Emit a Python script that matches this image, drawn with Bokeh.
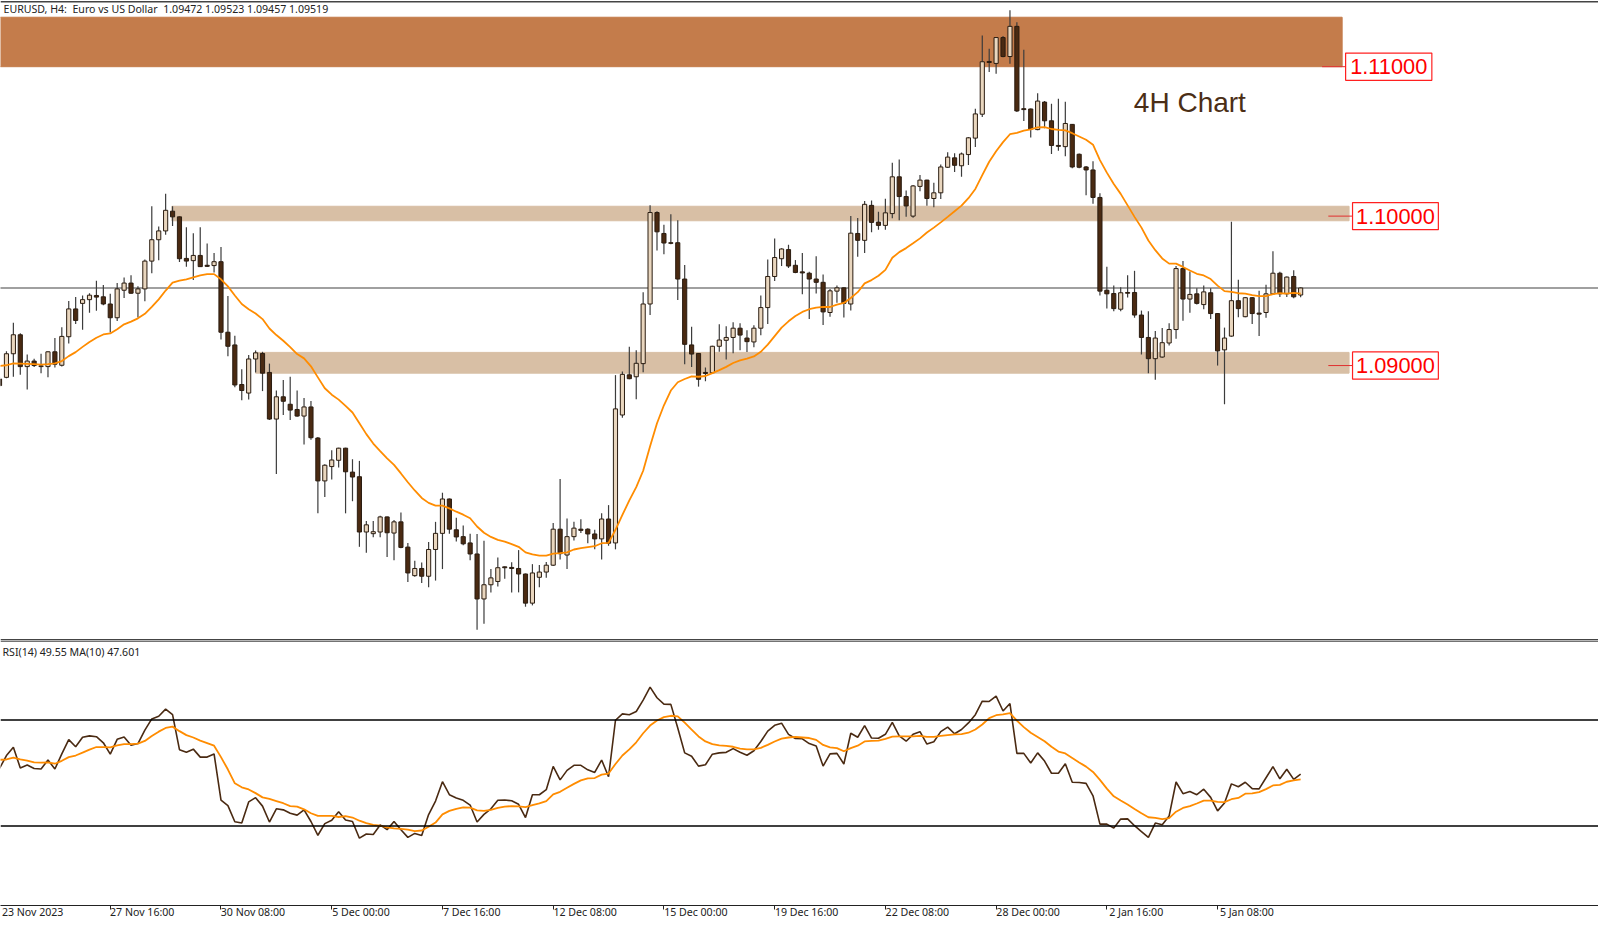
from bokeh.core.properties import value
from bokeh.embed import file_html
from bokeh.layouts import column
from bokeh.models import FixedTicker, Label, Range1d, Span
from bokeh.plotting import figure
from bokeh.resources import INLINE
import numpy as np

# EURUSD H4 candles, first bar is partly off the left edge
opens = [1.08910,1.08921,1.09079,1.09206,1.08993,1.09030,1.08993,1.08993,1.09092,1.09002,
1.09193,1.09379,1.09416,1.09441,1.09469,1.09460,1.09412,1.09320,1.09504,1.09552,
1.09484,1.09513,1.09699,1.09842,1.09901,1.10033,1.09995,1.09717,1.09702,1.09737,
1.09671,1.09669,1.09695,1.09223,1.09138,1.08873,1.08816,1.09044,1.09081,1.08954,
1.08642,1.08791,1.08741,1.08706,1.08662,1.08723,1.08515,1.08228,1.08324,1.08366,
1.08447,1.08287,1.08256,1.07886,1.07875,1.07886,1.07987,1.07879,1.07954,1.07785,
1.07594,1.07642,1.07590,1.07769,1.07877,1.08107,1.07901,1.07855,1.07813,1.07739,
1.07438,1.07533,1.07555,1.07653,1.07649,1.07642,1.07605,1.07410,1.07583,1.07618,
1.07664,1.07905,1.07732,1.07855,1.07905,1.07905,1.07873,1.07840,1.07973,1.07813,
1.08669,1.08938,1.08925,1.09013,1.09412,1.10024,1.09884,1.09822,1.09822,1.09579,
1.09138,1.09081,1.08954,1.08952,1.09129,1.09169,1.09188,1.09250,1.09184,1.09158,
1.09250,1.09388,1.09596,1.09715,1.09776,1.09671,1.09627,1.09618,1.09579,1.09557,
1.09355,1.09498,1.09520,1.09412,1.09884,1.09838,1.10072,1.09960,1.09938,1.10017,
1.10263,1.10131,1.10000,1.10199,1.10241,1.10118,1.10156,1.10327,1.10390,1.10337,
1.10412,1.10522,1.10682,1.11035,1.11022,1.11195,1.11068,1.11270,1.10719,1.10717,
1.10579,1.10763,1.10638,1.10473,1.10465,1.10614,1.10414,1.10329,1.10309,1.10125,
1.09504,1.09482,1.09377,1.09489,1.09489,1.09338,1.09188,1.09046,1.09057,1.09151,
1.09241,1.09649,1.09445,1.09480,1.09408,1.09487,1.09348,1.09105,1.09197,1.09434,
1.09327,1.09454,1.09351,1.09355,1.09480,1.09618,1.09480,1.09596,1.09472]
highs = [1.08921,1.09096,1.09287,1.09217,1.09074,1.09046,1.09079,1.09096,1.09184,1.09256,
1.09432,1.09458,1.09469,1.09484,1.09568,1.09539,1.09480,1.09552,1.09590,1.09605,
1.09530,1.09710,1.10066,1.09930,1.10149,1.10066,1.09998,1.09925,1.09886,1.09925,
1.09816,1.09754,1.09794,1.09465,1.09199,1.08976,1.09070,1.09101,1.09092,1.09013,
1.08833,1.08903,1.08925,1.08833,1.08783,1.08763,1.08522,1.08340,1.08434,1.08450,
1.08450,1.08373,1.08362,1.07960,1.07960,1.07995,1.07990,1.07967,1.08017,1.07813,
1.07693,1.07682,1.07820,1.07954,1.08149,1.08110,1.07982,1.07930,1.07875,1.07873,
1.07827,1.07638,1.07715,1.07655,1.07684,1.07765,1.07608,1.07671,1.07666,1.07686,
1.07947,1.08241,1.07976,1.07954,1.07971,1.07912,1.07901,1.08011,1.08066,1.08936,
1.08960,1.09125,1.09103,1.09491,1.10072,1.10033,1.09943,1.10013,1.09973,1.09673,
1.09259,1.09083,1.08987,1.09132,1.09276,1.09263,1.09289,1.09283,1.09237,1.09270,
1.09469,1.09710,1.09851,1.09785,1.09809,1.09706,1.09754,1.09627,1.09732,1.09609,
1.09513,1.09535,1.09524,1.10000,1.09987,1.10101,1.10105,1.10030,1.10116,1.10357,
1.10379,1.10171,1.10208,1.10276,1.10244,1.10223,1.10346,1.10427,1.10421,1.10425,
1.10530,1.10719,1.11208,1.11120,1.11199,1.11206,1.11377,1.11298,1.11114,1.10720,
1.10822,1.10770,1.10752,1.10785,1.10765,1.10617,1.10419,1.10335,1.10368,1.10153,
1.09662,1.09535,1.09524,1.09605,1.09634,1.09368,1.09364,1.09232,1.09252,1.09283,
1.09666,1.09699,1.09629,1.09517,1.09535,1.09517,1.09351,1.09254,1.09963,1.09574,
1.09458,1.09458,1.09500,1.09541,1.09765,1.09627,1.09596,1.09638,1.09523]
lows = [1.08855,1.08915,1.08925,1.08938,1.08840,1.08991,1.08949,1.08921,1.08987,1.08993,
1.09147,1.09278,1.09239,1.09353,1.09366,1.09403,1.09221,1.09298,1.09452,1.09480,
1.09322,1.09430,1.09618,1.09704,1.09875,1.09934,1.09693,1.09662,1.09572,1.09660,
1.09660,1.09623,1.09175,1.09063,1.08855,1.08767,1.08772,1.08954,1.08829,1.08636,
1.08274,1.08669,1.08636,1.08658,1.08471,1.08504,1.08011,1.08120,1.08237,1.08318,
1.08011,1.08092,1.07787,1.07748,1.07851,1.07851,1.07719,1.07697,1.07778,1.07552,
1.07587,1.07544,1.07517,1.07561,1.07638,1.07875,1.07822,1.07798,1.07697,1.07232,
1.07272,1.07482,1.07522,1.07574,1.07482,1.07482,1.07386,1.07395,1.07517,1.07580,
1.07658,1.07702,1.07638,1.07829,1.07879,1.07811,1.07770,1.07702,1.07794,1.07770,
1.08651,1.08908,1.08774,1.08956,1.09338,1.09770,1.09745,1.09811,1.09438,1.09009,
1.08991,1.08859,1.08895,1.08943,1.09092,1.09041,1.09083,1.09103,1.09090,1.09123,
1.09202,1.09278,1.09566,1.09666,1.09653,1.09618,1.09478,1.09311,1.09482,1.09272,
1.09327,1.09421,1.09322,1.09368,1.09728,1.09754,1.09892,1.09908,1.09908,1.09985,
1.09973,1.09995,1.09989,1.10166,1.10070,1.10059,1.10114,1.10322,1.10296,1.10263,
1.10342,1.10462,1.10664,1.10965,1.10952,1.11063,1.11020,1.10697,1.10636,1.10526,
1.10574,1.10588,1.10416,1.10438,1.10401,1.10320,1.10320,1.10140,1.10083,1.09469,
1.09381,1.09364,1.09364,1.09456,1.09320,1.09074,1.08949,1.08905,1.09052,1.09134,
1.09180,1.09300,1.09353,1.09408,1.09377,1.09311,1.09000,1.08741,1.09193,1.09324,
1.09324,1.09278,1.09197,1.09320,1.09473,1.09458,1.09458,1.09451,1.09457]
closes = [1.08866,1.09079,1.09206,1.08993,1.09030,1.09000,1.08998,1.09092,1.09009,1.09195,
1.09379,1.09302,1.09441,1.09471,1.09458,1.09412,1.09320,1.09513,1.09552,1.09484,
1.09513,1.09699,1.09842,1.09901,1.10039,1.09995,1.09715,1.09699,1.09737,1.09662,
1.09664,1.09695,1.09223,1.09129,1.08870,1.08833,1.09044,1.09085,1.08949,1.08642,
1.08791,1.08761,1.08702,1.08662,1.08723,1.08517,1.08228,1.08333,1.08368,1.08447,
1.08289,1.08254,1.07886,1.07934,1.07888,1.07987,1.07881,1.07954,1.07783,1.07612,
1.07642,1.07590,1.07769,1.07877,1.08107,1.07905,1.07853,1.07807,1.07739,1.07438,
1.07533,1.07579,1.07647,1.07647,1.07642,1.07605,1.07410,1.07612,1.07618,1.07664,
1.07905,1.07741,1.07855,1.07912,1.07897,1.07873,1.07840,1.07973,1.07811,1.08710,
1.08941,1.08912,1.09015,1.09412,1.10024,1.09895,1.09820,1.09818,1.09579,1.09142,
1.09077,1.08908,1.08947,1.09129,1.09171,1.09188,1.09250,1.09204,1.09160,1.09250,
1.09388,1.09596,1.09723,1.09780,1.09666,1.09623,1.09620,1.09579,1.09557,1.09359,
1.09500,1.09520,1.09416,1.09886,1.09838,1.10079,1.09958,1.09938,1.10022,1.10263,
1.10131,1.10068,1.10202,1.10241,1.10118,1.10156,1.10329,1.10395,1.10340,1.10416,
1.10524,1.10684,1.11033,1.11028,1.11195,1.11068,1.11270,1.10704,1.10713,1.10583,
1.10770,1.10638,1.10473,1.10467,1.10620,1.10329,1.10327,1.10309,1.10125,1.09498,
1.09480,1.09381,1.09487,1.09484,1.09338,1.09188,1.09046,1.09184,1.09153,1.09241,
1.09649,1.09445,1.09476,1.09416,1.09493,1.09348,1.09098,1.09184,1.09434,1.09381,
1.09454,1.09348,1.09344,1.09480,1.09618,1.09480,1.09592,1.09460,1.09519]
ma_price = [1.08998,1.09002,1.09015,1.09013,1.09011,1.09009,1.09006,1.09009,1.09015,1.09030,
1.09063,1.09090,1.09125,1.09158,1.09186,1.09208,1.09215,1.09243,1.09276,1.09294,
1.09316,1.09346,1.09392,1.09443,1.09502,1.09555,1.09568,1.09577,1.09590,1.09603,
1.09612,1.09612,1.09577,1.09530,1.09469,1.09412,1.09377,1.09348,1.09311,1.09248,
1.09204,1.09166,1.09123,1.09077,1.09048,1.08995,1.08921,1.08848,1.08805,1.08772,
1.08730,1.08686,1.08614,1.08541,1.08478,1.08427,1.08379,1.08335,1.08278,1.08219,
1.08164,1.08114,1.08081,1.08063,1.08063,1.08044,1.08022,1.08002,1.07978,1.07923,
1.07881,1.07853,1.07833,1.07822,1.07805,1.07787,1.07750,1.07736,1.07728,1.07728,
1.07741,1.07745,1.07750,1.07769,1.07778,1.07785,1.07791,1.07811,1.07813,1.07901,
1.08000,1.08098,1.08186,1.08296,1.08460,1.08614,1.08734,1.08833,1.08888,1.08910,
1.08927,1.08925,1.08930,1.08949,1.08969,1.08991,1.09017,1.09035,1.09046,1.09061,
1.09092,1.09140,1.09197,1.09254,1.09296,1.09331,1.09359,1.09377,1.09388,1.09392,
1.09392,1.09408,1.09419,1.09452,1.09491,1.09550,1.09572,1.09601,1.09640,1.09721,
1.09759,1.09786,1.09818,1.09851,1.09890,1.09923,1.09958,1.09995,1.10033,1.10070,
1.10120,1.10182,1.10274,1.10364,1.10434,1.10495,1.10548,1.10557,1.10572,1.10581,
1.10594,1.10596,1.10583,1.10577,1.10574,1.10555,1.10533,1.10511,1.10478,1.10375,
1.10291,1.10215,1.10149,1.10072,1.09995,1.09923,1.09837,1.09772,1.09717,1.09682,
1.09682,1.09660,1.09636,1.09614,1.09603,1.09579,1.09535,1.09498,1.09493,1.09484,
1.09482,1.09471,1.09465,1.09465,1.09478,1.09484,1.09482,1.09487,1.09482]
rsi = [51.7,56.6,59.7,51.9,53.0,51.7,51.5,54.9,51.5,57.2,
62.6,59.9,63.5,64.0,63.7,61.4,57.1,62.7,63.6,60.5,
61.1,66.2,70.4,71.4,74.1,72.0,58.8,57.8,59.0,56.0,
56.0,57.2,39.8,37.7,31.6,31.1,39.1,40.7,37.5,31.5,
36.5,36.1,34.8,34.1,36.1,31.7,26.5,30.9,32.2,35.4,
32.3,31.7,25.4,27.0,26.8,30.4,28.6,31.7,28.6,25.7,
27.2,26.4,34.3,39.4,46.7,41.8,40.6,39.7,37.9,31.5,
34.4,36.5,39.7,39.8,39.5,38.2,33.2,41.8,41.8,43.7,
52.5,47.4,51.0,52.9,52.9,51.2,50.2,54.9,48.6,69.9,
72.3,72.0,73.2,77.5,82.4,78.4,76.0,75.9,67.0,57.6,
56.3,52.6,53.1,57.1,57.6,57.8,59.2,57.8,56.7,58.4,
61.9,65.8,68.0,68.8,64.6,63.0,62.9,61.1,60.2,52.6,
57.2,57.4,53.4,65.0,63.5,67.9,63.2,63.1,64.6,69.1,
64.0,62.0,64.6,65.6,60.9,61.8,65.6,67.3,64.8,66.4,
68.9,72.0,77.1,77.0,79.0,73.4,76.2,57.4,57.4,53.8,
57.6,54.5,49.9,49.9,53.5,46.5,46.4,46.1,41.4,30.7,
30.7,29.2,32.6,32.7,30.1,27.9,25.7,31.1,30.5,33.8,
46.6,42.2,43.0,41.8,43.9,40.8,35.7,38.7,45.9,44.8,
46.5,44.1,44.0,48.2,52.4,47.8,51.4,47.6,49.55]
rsi_ma = [55.0,55.1,55.8,55.1,54.7,54.0,53.9,54.0,53.5,54.6,
56.0,56.6,57.7,58.8,59.8,59.8,59.7,60.4,60.9,60.9,
61.1,62.1,64.0,65.6,67.0,67.5,65.8,64.3,63.4,62.2,
61.3,60.3,56.0,51.3,46.1,44.6,43.8,42.4,40.8,40.2,
39.4,38.6,37.5,37.3,36.3,34.8,33.8,33.8,33.8,33.4,
33.7,33.2,32.0,31.1,30.4,30.1,29.5,29.1,28.9,28.6,
28.1,28.3,29.7,31.3,34.4,35.7,36.5,37.0,36.9,35.9,
35.7,36.1,36.8,37.3,37.5,37.4,37.1,37.9,38.5,39.4,
41.9,42.9,44.4,45.9,47.2,48.0,48.1,49.4,49.8,53.4,
56.6,58.9,61.6,65.0,67.9,69.8,71.1,71.6,71.4,69.0,
66.4,63.8,61.9,60.9,60.4,60.2,59.9,59.2,58.9,58.9,
59.5,60.6,61.9,63.0,63.4,63.6,63.4,63.2,62.5,60.6,
59.7,59.4,58.2,59.4,60.3,61.9,62.1,62.2,62.9,63.7,
63.8,63.8,63.8,64.0,63.6,63.6,64.0,64.3,64.6,64.7,
65.2,66.4,68.3,70.7,71.8,72.1,72.6,69.8,67.3,65.2,
63.6,62.0,59.9,58.1,57.4,55.7,54.0,52.4,50.4,47.4,
44.1,41.2,39.6,38.1,36.4,34.8,33.3,33.1,32.6,33.0,
35.4,36.8,37.5,38.5,39.6,39.6,39.1,39.0,40.1,40.6,
42.2,42.3,42.8,43.9,45.3,45.5,46.7,47.2,47.601]

time_labels = ["23 Nov 2023", "27 Nov 16:00", "30 Nov 08:00", "5 Dec 00:00", "7 Dec 16:00", "12 Dec 08:00",
               "15 Dec 00:00", "19 Dec 16:00", "22 Dec 08:00", "28 Dec 00:00", "2 Jan 16:00", "5 Jan 08:00"]
level_prices = [1.11, 1.10, 1.09]
level_texts = ["1.11000", "1.10000", "1.09000"]
rsi_levels = [70, 30]

# second space of each pair is non-breaking, the svg text collapses plain ones
header = "EURUSD, H4: \u00a0Euro vs US Dollar \u00a01.09472 1.09523 1.09457 1.09519"
rsi_header = "RSI(14) 49.55 MA(10) 47.601"

x = np.arange(len(closes)) - 1
opens, highs, lows, closes = map(np.array, (opens, highs, lows, closes))
up = closes >= opens

TAN = "#D8BFA5"
RUST = "#C47C4B"
DARK = "#4A2A12"
LIGHT = "#E9D6BE"
EDGE = "#2A1C10"
ORANGE = "#FF8C00"

x_range = Range1d(-0.86, 230.04)

# price pane
p = figure(width=1598, height=640, x_range=x_range, y_range=Range1d(1.07160, 1.11443),
           x_axis_location=None, y_axis_location=None, toolbar_location=None,
           output_backend="svg", min_border=0, outline_line_color=None)
p.grid.visible = False

p.add_layout(Span(location=1.11435, dimension="width", line_color="#444444", line_width=1.5))
p.add_layout(Span(location=1.07165, dimension="width", line_color="#444444", line_width=1.5))

p.quad(left=-5, right=193, top=1.11331, bottom=1.11, color=RUST)
p.quad(left=23.9, right=194, top=1.10066, bottom=1.09969, color=TAN)
p.quad(left=36, right=194, top=1.09088, bottom=1.08949, color=TAN)

p.line([-5, 235], [closes[-1], closes[-1]], line_color="#808080", line_width=1.5)

p.segment(x, lows, x, highs, line_color="#3C3C3C", line_width=1.2)
p.vbar(x[up], 0.6, opens[up], closes[up], fill_color=LIGHT, line_color=EDGE, line_width=1)
p.vbar(x[~up], 0.6, closes[~up], opens[~up], fill_color=DARK, line_color=EDGE, line_width=1)
p.line(x, ma_price, line_color=ORANGE, line_width=1.8)

# red price tags on the right
box_left = [193.5, 194.5, 194.5]
box_right = [205.96, 206.9, 206.9]
line_left = [190.1, 191, 191]
p.segment(line_left, level_prices, box_left, level_prices, line_color="#E03030", line_width=1)
p.quad(left=box_left, right=box_right, top=[v + 0.00091 for v in level_prices],
       bottom=[v - 0.00091 for v in level_prices], fill_color="white", line_color="#FF2020", line_width=1.2)
p.text([(a + b) / 2 for a, b in zip(box_left, box_right)], level_prices, text=level_texts,
       text_font=value("Liberation Sans"), text_font_size="21.8px", text_color="#FF0000",
       text_align="center", text_baseline="middle")

p.text([162.9], [1.10759], text=["4H Chart"], text_font=value("Liberation Sans"), text_font_size="28px",
       text_color="#4B2E16", text_align="left", text_baseline="middle")

p.add_layout(Label(x=3, y=632, x_units="screen", y_units="screen", text=header, text_font="Noto Sans",
                   text_font_size="10.6px", text_color="#222222", text_baseline="middle"))

# RSI pane
q = figure(width=1598, height=281, x_range=x_range, y_range=Range1d(0, 100),
           y_axis_location=None, toolbar_location=None, output_backend="svg",
           min_border=0, min_border_bottom=16, outline_line_color=None)
q.grid.visible = False

q.add_layout(Span(location=99.8, dimension="width", line_color="#444444", line_width=1.5))
for level in rsi_levels:
    q.add_layout(Span(location=level, dimension="width", line_color="black", line_width=1.6))

q.line(x, rsi, line_color=DARK, line_width=1.6)
q.line(x, rsi_ma, line_color=ORANGE, line_width=1.8)

q.add_layout(Label(x=2, y=254, x_units="screen", y_units="screen", text=rsi_header, text_font="Noto Sans",
                   text_font_size="10.6px", text_color="#222222", text_baseline="middle"))

# every label starts at its bar: minor ticks mark the bars, the centred labels sit half a label to the right
tick_bars = [int(x[0]) + 16 * n for n in range(len(time_labels))]
label_spots = [round(max(bar, -0.7) + 0.385 * len(label) + 0.25 * (bar < 0), 2) for bar, label in zip(tick_bars, time_labels)]
q.xaxis.ticker = FixedTicker(ticks=label_spots, minor_ticks=tick_bars)
q.xaxis.major_label_overrides = dict(zip(label_spots, time_labels))
q.xaxis.major_label_text_font = "Noto Sans"
q.xaxis.major_label_text_font_size = "10.6px"
q.xaxis.major_label_text_color = "#222222"
q.xaxis.major_label_standoff = -5
q.xaxis.major_tick_line_color = None
q.xaxis.major_tick_in = 0
q.xaxis.major_tick_out = 0
q.xaxis.minor_tick_in = 0
q.xaxis.minor_tick_out = 4
q.xaxis.minor_tick_line_color = "#222222"
q.xaxis.axis_line_color = "#222222"

open("out.html", "w").write(file_html(column(p, q, spacing=0), INLINE))
